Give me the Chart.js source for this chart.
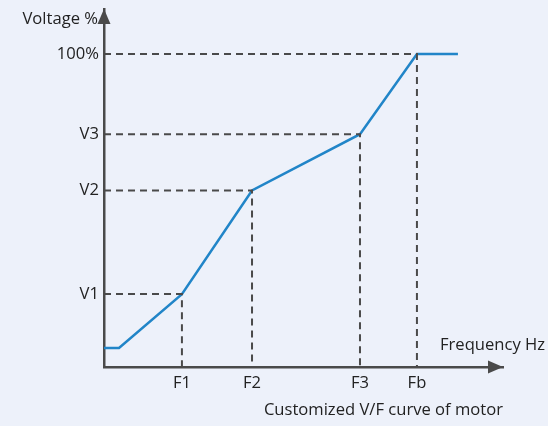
<!DOCTYPE html>
<html>
<head>
<meta charset="utf-8">
<script src="https://cdn.jsdelivr.net/npm/chart.js@4"></script>
<style>
  html, body { margin: 0; padding: 0; background: #edf1fa; }
  #wrap { width: 548px; height: 426px; }
</style>
</head>
<body>
<div id="wrap"><canvas id="vfChart" width="548" height="426"></canvas></div>
<script>
// values (frequency as % of Fb, voltage in %)
const freqTicks = [24.9, 47.3, 81.8, 100];
const freqLabels = ['F1', 'F2', 'F3', 'Fb'];
const voltTicks = [23.3, 56.4, 74.4, 100];
const voltLabels = ['V1', 'V2', 'V3', '100%'];
const curveFreq = [0, 4.8, 24.9, 47.3, 81.8, 100, 113.1];
const curveVolt = [6.1, 6.1, 23.3, 56.4, 74.4, 100, 100];
const freqMax = 127.5;
const voltMax = 114.4;

const axisColor = '#4a4a4a';
const textColor = '#222';
const font = { family: 'Open Sans', size: 16.6 };

// dashed guides from each (F, V) pair to both axes
const guides = freqTicks.map((f, i) => ({
  data: [{ x: 0, y: voltTicks[i] }, { x: f, y: voltTicks[i] }, { x: f, y: 0 }],
  borderColor: axisColor,
  borderWidth: 2,
  borderDash: [7, 5],
  pointRadius: 0,
  clip: false
}));

function noPad(s) {
  s.paddingTop = 0;
  s.paddingBottom = 0;
  s.paddingLeft = 0;
  s.paddingRight = 0;
}

const arrows = {
  id: 'arrows',
  beforeDraw(chart) {
    const ctx = chart.ctx;
    ctx.save();
    ctx.fillStyle = '#edf1fa';
    ctx.fillRect(0, 0, chart.width, chart.height);
    ctx.restore();
  },
  afterDraw(chart) {
    const { ctx, chartArea: a } = chart;
    const x0 = chart.scales.x.getPixelForValue(0);
    const y0 = chart.scales.y.getPixelForValue(0);
    ctx.save();
    ctx.fillStyle = axisColor;
    // y arrow
    ctx.beginPath();
    ctx.moveTo(x0, a.top);
    ctx.lineTo(x0 - 6.5, a.top + 15);
    ctx.lineTo(x0 + 6.5, a.top + 15);
    ctx.closePath();
    ctx.fill();
    // x arrow
    ctx.beginPath();
    ctx.moveTo(a.right, y0);
    ctx.lineTo(a.right - 15, y0 - 6.5);
    ctx.lineTo(a.right - 15, y0 + 6.5);
    ctx.closePath();
    ctx.fill();
    // axis names
    ctx.fillStyle = textColor;
    ctx.font = font.size + 'px ' + font.family;
    ctx.textBaseline = 'middle';
    ctx.textAlign = 'right';
    ctx.fillText('Voltage %', x0 - 6, a.top + 10);
    ctx.textAlign = 'left';
    ctx.fillText('Frequency Hz', a.right - 63, y0 - 22);
    ctx.restore();
  }
};

new Chart(document.getElementById('vfChart'), {
  type: 'line',
  data: {
    datasets: [
      ...guides,
      {
        data: curveFreq.map((f, i) => ({ x: f, y: curveVolt[i] })),
        borderColor: '#2185c8',
        borderWidth: 2.5,
        pointRadius: 0,
        clip: false
      }
    ]
  },
  options: {
    responsive: false,
    animation: false,
    layout: { padding: { top: 9, right: 45, left: 0, bottom: 0 } },
    plugins: { legend: { display: false }, tooltip: { enabled: false } },
    scales: {
      x: {
        type: 'linear',
        min: 0,
        max: freqMax,
        afterFit(s) { s.height = 59; noPad(s); },
        afterBuildTicks(s) { s.ticks = freqTicks.map(v => ({ value: v })); },
        grid: { display: false, drawTicks: false },
        border: { display: true, color: axisColor, width: 2.5 },
        ticks: {
          autoSkip: false,
          maxRotation: 0,
          padding: 6,
          color: textColor,
          font,
          callback: (v, i) => freqLabels[i]
        },
        title: {
          display: true,
          text: 'Customized V/F curve of motor',
          align: 'end',
          color: textColor,
          font,
          padding: { top: 0, bottom: 6 }
        }
      },
      y: {
        type: 'linear',
        min: 0,
        max: voltMax,
        afterFit(s) { s.width = 104; noPad(s); },
        afterBuildTicks(s) { s.ticks = voltTicks.map(v => ({ value: v })); },
        grid: { display: false, drawTicks: false },
        border: { display: true, color: axisColor, width: 2.5 },
        ticks: {
          autoSkip: false,
          padding: 5,
          color: textColor,
          font,
          callback: (v, i) => voltLabels[i]
        }
      }
    }
  },
  plugins: [arrows]
});
</script>
</body>
</html>
